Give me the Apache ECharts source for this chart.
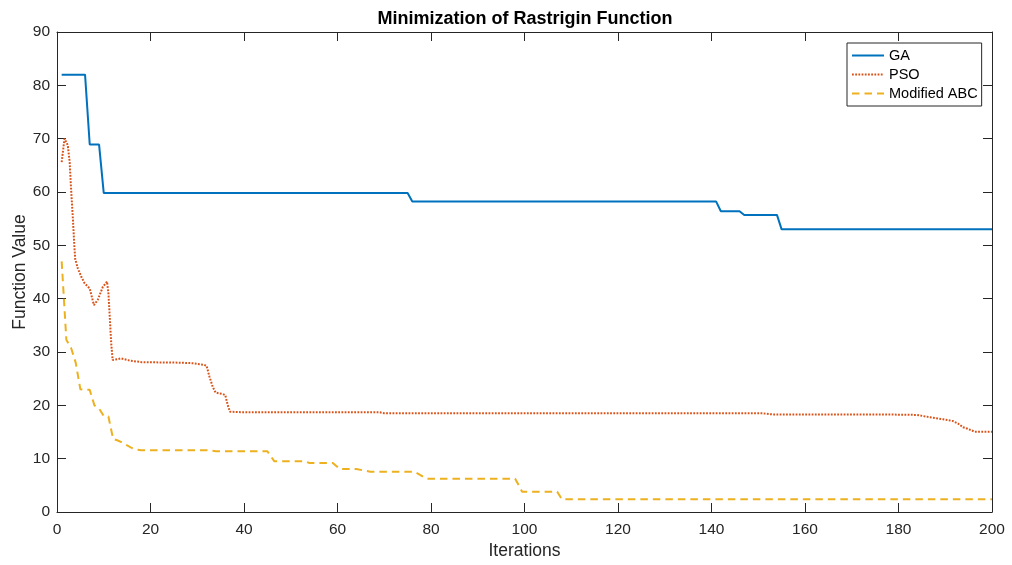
<!DOCTYPE html>
<html>
<head>
<meta charset="utf-8">
<script src="https://cdn.jsdelivr.net/npm/echarts@6/dist/echarts.min.js"></script>
<style>html,body{margin:0;padding:0;background:#fff}#c{width:1012px;height:565px}</style>
</head>
<body>
<div id="c"></div>
<script>
// ---- data ----
const xTicks = [0, 20, 40, 60, 80, 100, 120, 140, 160, 180, 200];
const yTicks = [0, 10, 20, 30, 40, 50, 60, 70, 80, 90];

const gaIter = [1, 6, 7, 9, 10, 75, 76, 141, 142, 146, 147, 154, 155, 200];
const gaVal  = [82, 82, 68.9, 68.9, 59.8, 59.8, 58.2, 58.2, 56.4, 56.4, 55.7, 55.7, 53, 53];

const psoIter = [1, 1.6, 2, 2.3, 2.7, 3, 3.4, 3.7, 3.9, 4.45, 5.2, 5.9, 7, 7.9, 8.7, 9.8, 10.7, 11, 11.6, 11.9, 13.7, 15.5, 18, 26, 29, 30.5, 31.5, 32, 32.6, 33.3, 33.9, 35.5, 36, 36.5, 37, 40, 69, 70, 151, 153, 176, 184, 185.2, 187.3, 189.5, 191.6, 192.7, 193.8, 194.8, 196.3, 200];
const psoVal  = [65.6, 70, 70.3, 68.8, 65.7, 60.7, 55, 50, 47.4, 45.7, 44.1, 42.9, 41.9, 38.8, 39.75, 42.2, 43.2, 41, 31.6, 28.5, 28.8, 28.4, 28.1, 28.0, 27.9, 27.7, 27.6, 27.4, 25.4, 23.5, 22.4, 22.1, 21.9, 20.1, 18.8, 18.7, 18.7, 18.5, 18.5, 18.3, 18.3, 18.2, 18.0, 17.7, 17.4, 17.06, 16.6, 15.9, 15.6, 15.06, 15.06];

const abcIter = [1, 2, 3, 4, 5, 6, 7, 8, 9, 10, 11, 12, 13, 14, 15, 16, 17, 18, 32, 34, 45, 46.5, 53, 54, 59, 60.5, 64, 67, 76.5, 79, 98, 99.5, 107, 108, 200];
const abcVal  = [47, 32.3, 30.8, 28.0, 23.0, 22.9, 22.9, 20.0, 19.4, 18.0, 17.9, 13.7, 13.4, 13.0, 12.5, 12.0, 11.7, 11.6, 11.6, 11.4, 11.4, 9.5, 9.5, 9.2, 9.2, 8.06, 8.06, 7.56, 7.56, 6.25, 6.25, 3.8, 3.8, 2.37, 2.37];

const seriesNames = ['GA', 'PSO', 'Modified ABC'];
const titleText = 'Minimization of Rastrigin Function';
const xName = 'Iterations';
const yName = 'Function Value';

// ---- build ----
const zip = (a, b) => a.map((v, i) => [v, b[i]]);
const axisColor = '#262626';
const font = '"Liberation Sans", Arial, Helvetica, sans-serif';

const chart = echarts.init(document.getElementById('c'), null, {renderer: 'canvas'});

const baseX = {
  type: 'value', min: xTicks[0], max: xTicks[xTicks.length - 1], interval: xTicks[1] - xTicks[0],
  axisLine: {show: true, onZero: false, lineStyle: {color: axisColor, width: 1}},
  axisTick: {show: true, inside: true, length: 9, lineStyle: {color: axisColor}},
  splitLine: {show: false}
};
const baseY = {
  type: 'value', min: yTicks[0], max: yTicks[yTicks.length - 1], interval: yTicks[1] - yTicks[0],
  axisLine: {show: true, onZero: false, lineStyle: {color: axisColor, width: 1}},
  axisTick: {show: true, inside: true, length: 9, lineStyle: {color: axisColor}},
  splitLine: {show: false}
};

chart.setOption({
  animation: false,
  backgroundColor: '#fff',
  title: {
    text: titleText, left: 520, top: 5, textAlign: 'center',
    textStyle: {fontFamily: font, fontSize: 18, fontWeight: 'bold', color: '#000'}
  },
  grid: {left: 57, right: 20, top: 32, bottom: 53, containLabel: false, outerBoundsMode: 'none'},
  legend: {
    orient: 'vertical', left: 847, top: 43,
    data: seriesNames,
    backgroundColor: '#fff',
    borderColor: axisColor, borderWidth: 1, borderRadius: 0,
    padding: [5, 4, 5, 4],
    itemWidth: 32, itemHeight: 14.5, itemGap: 4,
    itemStyle: {opacity: 0},
    textStyle: {fontFamily: font, fontSize: 14.5, color: '#000'}
  },
  xAxis: [
    Object.assign({}, baseX, {
      position: 'bottom', name: xName, nameLocation: 'middle', nameGap: 30,
      nameMoveOverlap: false,
      nameTextStyle: {fontFamily: font, fontSize: 17.5, color: axisColor},
      axisLabel: {show: true, margin: 10, fontFamily: font, fontSize: 15.5, color: axisColor}
    }),
    Object.assign({}, baseX, {position: 'top', axisLabel: {show: false}})
  ],
  yAxis: [
    Object.assign({}, baseY, {
      position: 'left', name: yName, nameLocation: 'middle', nameGap: 28,
      nameMoveOverlap: false,
      nameTextStyle: {fontFamily: font, fontSize: 17.5, color: axisColor},
      axisLabel: {show: true, margin: 7, fontFamily: font, fontSize: 15.5, color: axisColor}
    }),
    Object.assign({}, baseY, {position: 'right', axisLabel: {show: false}})
  ],
  series: [
    {
      name: seriesNames[0], type: 'line', data: zip(gaIter, gaVal),
      symbol: 'none', showSymbol: false, smooth: false,
      lineStyle: {color: '#0072BD', width: 2, type: 'solid'},
      itemStyle: {color: '#0072BD'}, z: 3
    },
    {
      name: seriesNames[1], type: 'line', data: zip(psoIter, psoVal),
      symbol: 'none', showSymbol: false, smooth: false,
      lineStyle: {color: '#D95319', width: 2, type: [1.8, 1.4]},
      itemStyle: {color: '#D95319'}, z: 2
    },
    {
      name: seriesNames[2], type: 'line', data: zip(abcIter, abcVal),
      symbol: 'none', showSymbol: false, smooth: false,
      lineStyle: {color: '#EDB120', width: 2, type: [7.5, 5]},
      itemStyle: {color: '#EDB120'}, z: 1
    }
  ]
});
</script>
</body>
</html>
